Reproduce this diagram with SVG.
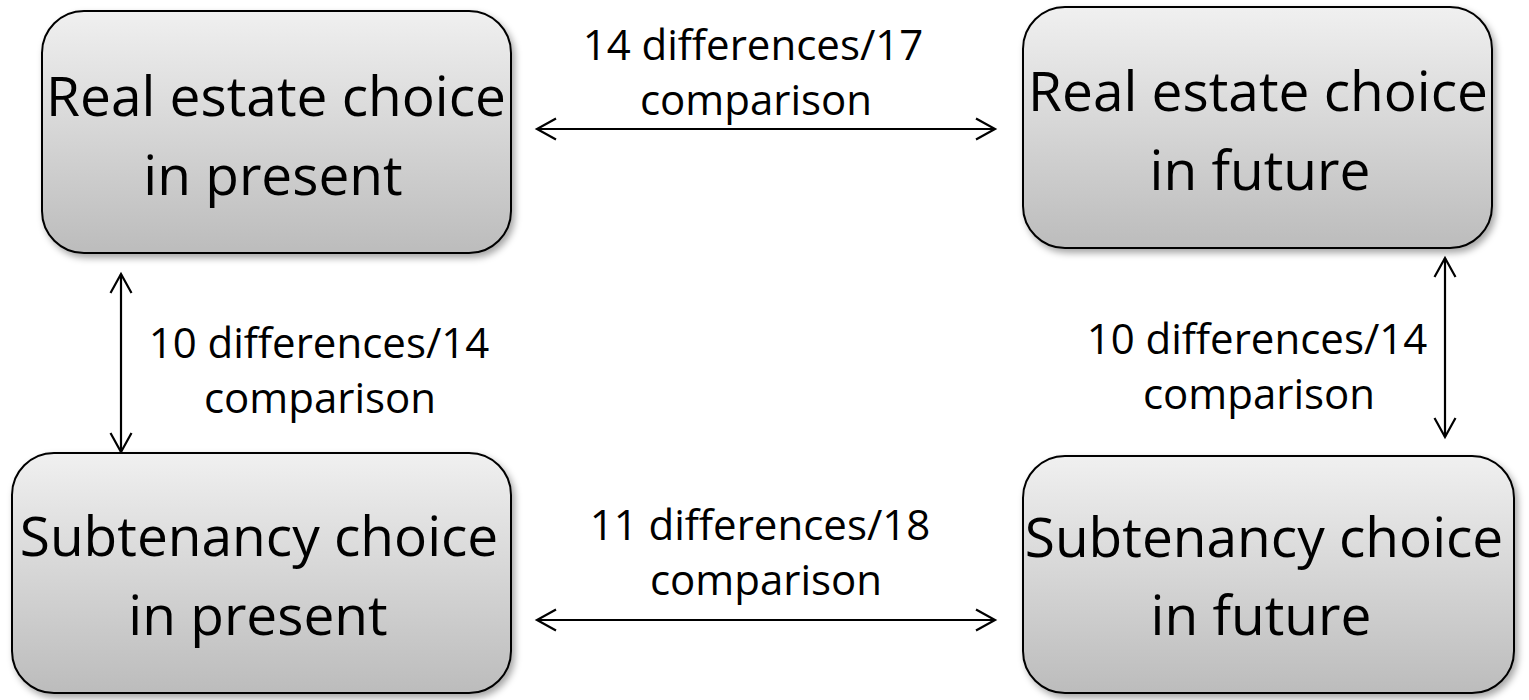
<svg xmlns="http://www.w3.org/2000/svg" width="1529" height="700" viewBox="0 0 1529 700">
<defs>
<linearGradient id="g" x1="0" y1="0" x2="0" y2="1">
<stop offset="0" stop-color="#f0f0f0"/>
<stop offset="1" stop-color="#bcbcbc"/>
</linearGradient>
<filter id="sh" x="-10%" y="-10%" width="125%" height="130%">
<feDropShadow dx="3" dy="4" stdDeviation="3.5" flood-color="#000" flood-opacity="0.35"/>
</filter>
<marker id="ah" viewBox="0 0 24 24" refX="21" refY="12" markerWidth="24" markerHeight="24" markerUnits="userSpaceOnUse" orient="auto-start-reverse">
<path d="M 2 1.5 L 21 12 L 2 22.5" fill="none" stroke="#000" stroke-width="2.2"/>
</marker>
<style>
.node{fill:url(#g);stroke:#000;stroke-width:2;filter:url(#sh)}
.nt{font-family:"Open Sans","Liberation Sans",sans-serif;font-size:55px;fill:#000;text-anchor:middle}
.lt{font-family:"Open Sans","Liberation Sans",sans-serif;font-size:42px;fill:#000;text-anchor:middle}
.cn{stroke:#000;stroke-width:2.2;fill:none;marker-start:url(#ah);marker-end:url(#ah)}
</style>
</defs>
<rect width="1529" height="700" fill="#fff"/>
<g id="connectors">
<line class="cn" x1="537" y1="129" x2="995" y2="129"/>
<line class="cn" x1="537" y1="620" x2="995" y2="620"/>
<line class="cn" x1="121" y1="274" x2="121" y2="452"/>
<line class="cn" x1="1445" y1="258" x2="1445" y2="437"/>
</g>
<g id="labels">
<text class="lt" x="753" y="60">14 differences/17</text>
<text class="lt" x="756" y="115">comparison</text>
<text class="lt" x="760" y="540">11 differences/18</text>
<text class="lt" x="766" y="595">comparison</text>
<text class="lt" x="319" y="358">10 differences/14</text>
<text class="lt" x="320" y="413">comparison</text>
<text class="lt" x="1257" y="354">10 differences/14</text>
<text class="lt" x="1259" y="409">comparison</text>
</g>
<g id="node-re-present">
<rect class="node" x="42" y="11" width="469" height="242" rx="42" ry="42"/>
<text class="nt" x="276" y="116">Real estate choice</text>
<text class="nt" x="273" y="195">in present</text>
</g>
<g id="node-re-future">
<rect class="node" x="1023" y="7" width="469" height="241" rx="42" ry="42"/>
<text class="nt" x="1258" y="111">Real estate choice</text>
<text class="nt" x="1260" y="190">in future</text>
</g>
<g id="node-sub-present">
<rect class="node" x="12" y="453" width="499" height="240" rx="42" ry="42"/>
<text class="nt" x="259" y="556">Subtenancy choice</text>
<text class="nt" x="258" y="635">in present</text>
</g>
<g id="node-sub-future">
<rect class="node" x="1023" y="456" width="491" height="237" rx="42" ry="42"/>
<text class="nt" x="1264" y="557">Subtenancy choice</text>
<text class="nt" x="1261" y="635">in future</text>
</g>
</svg>
